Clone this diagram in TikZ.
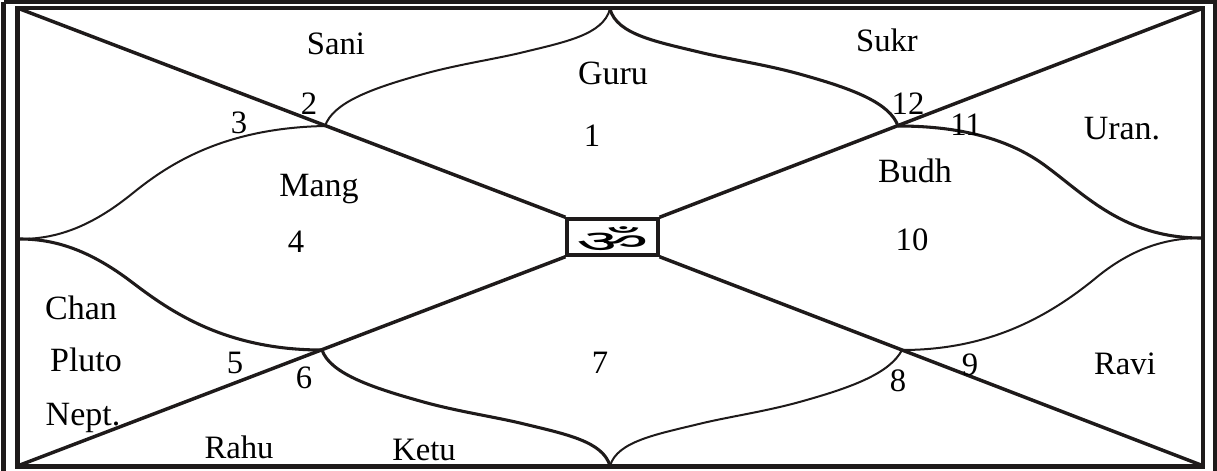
\documentclass[tikz,border=0pt]{standalone}
\usepackage{fontspec}
\setmainfont{Liberation Serif}
\newfontfamily\devfont[Script=Devanagari]{Noto Sans}
\definecolor{ink}{HTML}{1E1A1A}
\tikzset{
  lbl/.style={font=\fontsize{24.5pt}{28pt}\selectfont,text=black,inner sep=0pt,anchor=base},
  namelbl/.style={lbl,font=\fontsize{25.5pt}{28pt}\selectfont},
  frameline/.style={draw=ink,line width=3.2pt},
  diag/.style={draw=ink,line width=2.6pt},
  thinc/.style={draw=ink,line width=1.5pt},
  thickc/.style={draw=ink,line width=2.3pt},
}
\begin{document}
\begin{tikzpicture}[x=0.75pt,y=-0.75pt]
\useasboundingbox (0,0) rectangle (1217,471);
\fill[white] (0,0) rectangle (1217,471);
% frame
\draw[draw=ink,line width=3.4pt] (3.5,1.5) -- (1215,1.5) -- (1215,471);
\draw[draw=ink,line width=3.4pt] (3.5,1.5) -- (3.5,471);
\draw[frameline] (17.5,8) rectangle (1203,466.5);
\coordinate (TL) at (20,9);
\coordinate (TR) at (1201,9);
\coordinate (BL) at (20,465);
\coordinate (BR) at (1201,465);
\coordinate (T) at (610,9);
\coordinate (B) at (610,466);
\coordinate (L) at (20,239);
\coordinate (R) at (1201,238);
\coordinate (P2) at (325,126);
\coordinate (P12) at (898,126);
\coordinate (P6) at (322,350);
\coordinate (P8) at (902,350);
% centre box
\node[draw=ink,line width=2.6pt,minimum width=68pt,minimum height=27pt,inner sep=0pt] (om) at (612.5,237)
  {\smash{\raisebox{-11.5pt}{\scalebox{2.6}[1.0]{\devfont\fontsize{23pt}{24pt}\selectfont ॐ}}}};
% diagonals
\draw[diag] (TL) -- (om.north west);
\draw[diag] (TR) -- (om.north east);
\draw[diag] (BL) -- (om.south west);
\draw[diag] (BR) -- (om.south east);
% curves
\draw[thinc] (P2) .. controls (333,103) and (370,89) .. (420,75) .. controls (455,65) and (490,60) .. (520,53) .. controls (565,42) and (603,35) .. (T);
\draw[thickc] (P12) .. controls (890,103) and (853,89) .. (803,75) .. controls (768,65) and (733,60) .. (703,53) .. controls (658,42) and (617,35) .. (T);
\draw[thinc] (L) .. controls (55,239) and (90,228) .. (133,193) .. controls (170,163) and (225,128) .. (P2);
\draw[thickc] (L) .. controls (55,239) and (90,250) .. (133,283) .. controls (170,311) and (225,350) .. (P6);
\draw[thickc] (P6) .. controls (330,373) and (370,387) .. (420,401) .. controls (455,411) and (490,416) .. (520,423) .. controls (565,434) and (603,441) .. (B);
\draw[thinc] (P8) .. controls (890,373) and (853,387) .. (803,401) .. controls (768,411) and (733,416) .. (703,423) .. controls (658,434) and (617,441) .. (B);
\draw[thickc] (P12) .. controls (950,126) and (1005,135) .. (1047,167) .. controls (1085,195) and (1125,238) .. (R);
\draw[thinc] (P8) .. controls (985,350) and (1045,320) .. (1097,277) .. controls (1135,246) and (1170,238) .. (R);
% labels
\node[lbl] (sani) at (336,54) {Sani};
\node[namelbl] (guru) at (613,84) {Guru};
\node[lbl] (sukr) at (887,51) {Sukr};
\node[namelbl] (uran) at (1122,139) {Uran.};
\node[namelbl] (mang) at (319,196) {Mang};
\node[namelbl] (budh) at (915,182) {Budh};
\node[namelbl] (chan) at (81,319) {Chan};
\node[namelbl] (pluto) at (86,371) {Pluto};
\node[namelbl] (nept) at (83,425) {Nept.};
\node[lbl] (rahu) at (239,458) {Rahu};
\node[lbl] (ketu) at (424,460) {Ketu};
\node[lbl] (ravi) at (1125,374) {Ravi};
\node[lbl] (n1) at (592,146) {1};
\node[lbl] (n2) at (309,114) {2};
\node[lbl] (n3) at (239,133) {3};
\node[lbl] (n4) at (296,252) {4};
\node[lbl] (n5) at (235,373) {5};
\node[lbl] (n6) at (304,388) {6};
\node[lbl] (n7) at (600,373) {7};
\node[lbl] (n8) at (898,391) {8};
\node[lbl] (n9) at (970,375) {9};
\node[lbl] (n10) at (912,250) {10};
\node[lbl] (n11) at (966,135) {11};
\node[lbl] (n12) at (908,114) {12};
\end{tikzpicture}
\end{document}
